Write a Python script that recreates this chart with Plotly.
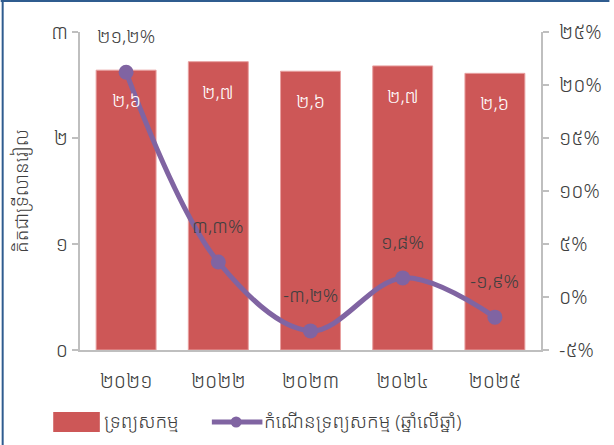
import plotly.graph_objects as go

# Data
years = ["២០២១", "២០២២", "២០២៣", "២០២៤", "២០២៥"]
assets = [2.64, 2.72, 2.63, 2.68, 2.61]          # trillion riel
growth = [21.2, 3.3, -3.2, 1.8, -1.9]           # % year on year
left_ticks = [0, 1, 2, 3]
right_ticks = [-5, 0, 5, 10, 15, 20, 25]
bar_name = "ទ្រព្យសកម្ម"
line_name = "កំណើនទ្រព្យសកម្ម (ឆ្នាំលើឆ្នាំ)"

KH_DIGITS = str.maketrans("0123456789", "០១២៣៤៥៦៧៨៩")


def kh(num, decimals=0):
    """Format a number with Khmer digits and a comma decimal mark"""
    s = f"{num:.{decimals}f}".replace(".", ",")
    return s.translate(KH_DIGITS)


FONT = "Khmer OS, Khmer OS System, Noto Sans Khmer, Noto Serif Khmer, Hanuman, sans-serif"
BAR_COLOR = "#CD5757"
LINE_COLOR = "#8064A2"
AXIS_COLOR = "#BFBFBF"
TEXT_COLOR = "#404040"


def font(size, color=TEXT_COLOR):
    return dict(family=FONT, size=size, color=color, weight=300)


# plot area in pixels, used to place the legend / frame in paper units
PW, PH = 465, 318


def px_x(p):
    return (p - 80) / PW


def px_y(p):
    return (350 - p) / PH


fig = go.Figure()

fig.add_trace(go.Bar(
    x=years,
    y=assets,
    name=bar_name,
    marker=dict(color=BAR_COLOR, line=dict(color="#E8A0A0", width=1)),
    width=0.65,
    hoverinfo="skip",
    showlegend=False,
))

fig.add_trace(go.Scatter(
    x=years,
    y=growth,
    yaxis="y2",
    name=line_name,
    mode="lines+markers",
    line=dict(color=LINE_COLOR, width=5, shape="spline", smoothing=1.0),
    marker=dict(color=LINE_COLOR, size=15),
    hoverinfo="skip",
    showlegend=False,
))

# Value labels
annotations = []
for yr, v in zip(years, assets):
    annotations.append(dict(
        x=yr, y=v, xref="x", yref="y", text=kh(v, 1), showarrow=False,
        yshift=-30, font=font(19, "white"),
    ))
for yr, g in zip(years, growth):
    sign = "-" if g < 0 else ""
    annotations.append(dict(
        x=yr, y=g, xref="x", yref="y2", text=sign + kh(abs(g), 1) + "%",
        showarrow=False, yshift=36, font=font(19),
    ))

# Legend drawn by hand so the swatches match the reference size
annotations.append(dict(
    x=px_x(102), y=px_y(421), xref="paper", yref="paper", text=bar_name,
    showarrow=False, xanchor="left", yanchor="middle", font=font(19),
))
annotations.append(dict(
    x=px_x(264), y=px_y(421), xref="paper", yref="paper", text=line_name,
    showarrow=False, xanchor="left", yanchor="middle", font=font(19),
))

shapes = [
    # frame on the top and left edges of the picture
    dict(type="line", xref="paper", yref="paper",
         x0=px_x(0), x1=px_x(614), y0=px_y(1), y1=px_y(1),
         line=dict(color="#2F5C8F", width=2)),
    dict(type="line", xref="paper", yref="paper",
         x0=px_x(2), x1=px_x(2), y0=px_y(445), y1=px_y(0),
         line=dict(color="#2F5C8F", width=2)),
    # legend swatches
    dict(type="rect", xref="paper", yref="paper",
         x0=px_x(53), x1=px_x(100), y0=px_y(432), y1=px_y(412),
         fillcolor=BAR_COLOR, line=dict(width=0)),
    dict(type="line", xref="paper", yref="paper",
         x0=px_x(213), x1=px_x(264), y0=px_y(422), y1=px_y(422),
         line=dict(color=LINE_COLOR, width=5)),
    dict(type="circle", xref="paper", yref="paper",
         x0=px_x(232), x1=px_x(243), y0=px_y(427.5), y1=px_y(416.5),
         fillcolor=LINE_COLOR, line=dict(width=0)),
]

fig.update_layout(
    width=614,
    height=445,
    margin=dict(l=80, r=69, t=32, b=95),
    paper_bgcolor="white",
    plot_bgcolor="white",
    font=font(19),
    showlegend=False,
    xaxis=dict(
        showline=True, linecolor=AXIS_COLOR, linewidth=2,
        showgrid=False, ticks="", ticklabelstandoff=12,
        tickfont=font(20),
    ),
    yaxis=dict(
        range=[0, 3],
        tickvals=left_ticks,
        ticktext=[kh(t) for t in left_ticks],
        showline=True, linecolor=AXIS_COLOR, linewidth=2,
        ticks="outside", ticklen=6, tickcolor=AXIS_COLOR, tickwidth=2,
        showgrid=False, zeroline=False,
        title=dict(text="គិតជាទ្រីលានរៀល", font=font(19), standoff=18),
        tickfont=font(20),
    ),
    yaxis2=dict(
        range=[-5, 25],
        overlaying="y",
        side="right",
        tickvals=right_ticks,
        ticktext=[("-" if t < 0 else "") + kh(abs(t)) + "%" for t in right_ticks],
        showline=True, linecolor=AXIS_COLOR, linewidth=2,
        ticks="outside", ticklen=6, tickcolor=AXIS_COLOR, tickwidth=2,
        showgrid=False, zeroline=False, ticklabelstandoff=6,
        tickfont=font(20),
    ),
    annotations=annotations,
    shapes=shapes,
)

fig.write_html("out.html", config={"displayModeBar": False},
               post_script="document.body.style.margin='0';")
